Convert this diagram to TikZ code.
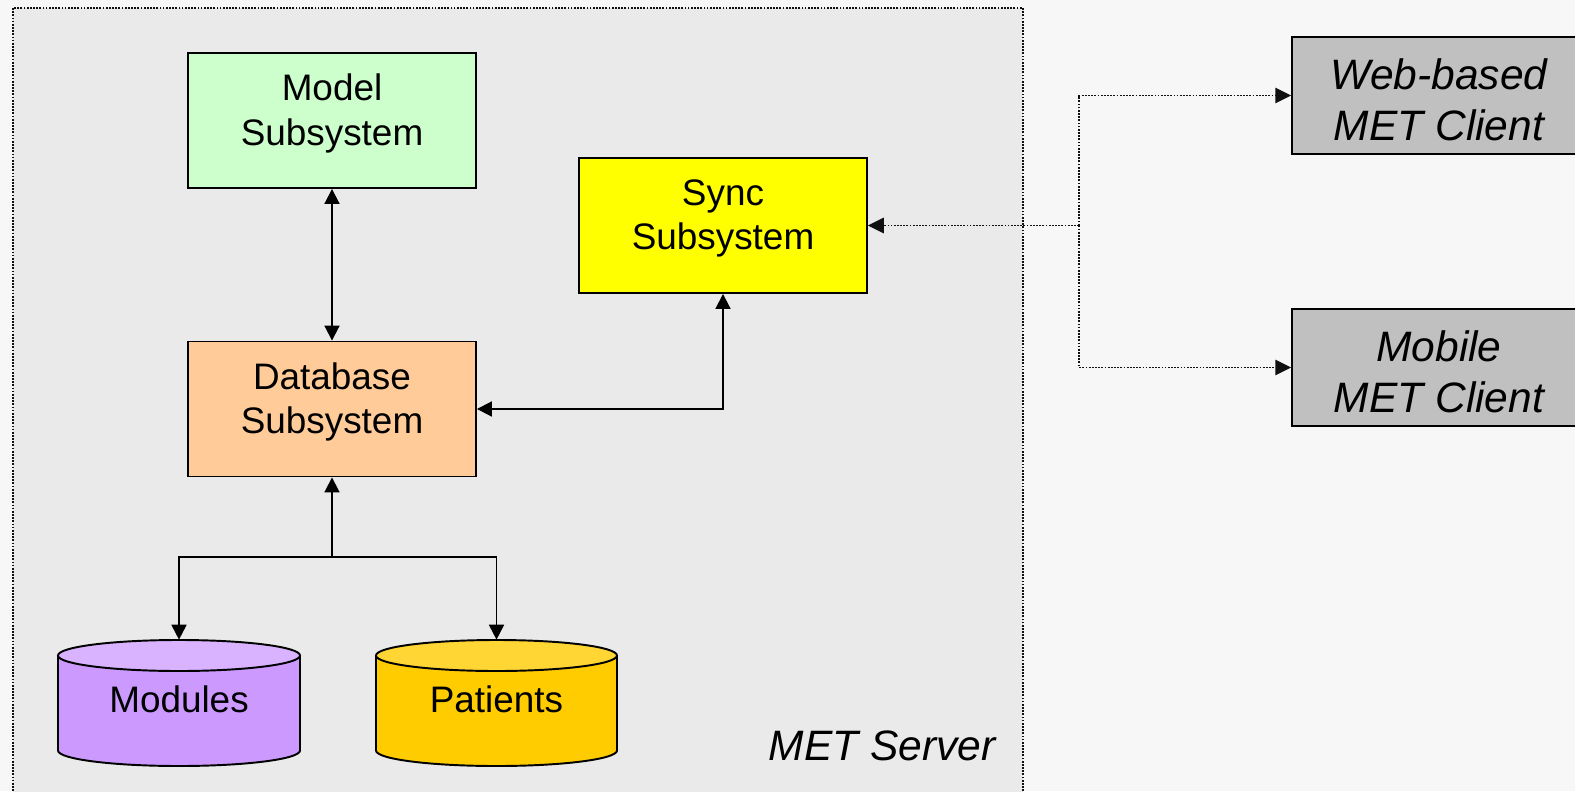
\documentclass[tikz,border=0pt]{standalone}
\usepackage{fontspec}
\setmainfont{Liberation Sans}
\usetikzlibrary{arrows.meta}
\definecolor{bgout}{HTML}{F7F7F7}
\definecolor{bgserver}{HTML}{EAEAEA}
\definecolor{modelgreen}{HTML}{CCFFCC}
\definecolor{dborange}{HTML}{FFCC99}
\definecolor{syncyellow}{HTML}{FFFF00}
\definecolor{clientgray}{HTML}{C0C0C0}
\definecolor{modbody}{HTML}{CC99FF}
\definecolor{modtop}{HTML}{D9B3FF}
\definecolor{patbody}{HTML}{FFCC00}
\definecolor{pattop}{HTML}{FFD633}
\definecolor{dotgray}{HTML}{101010}
\begin{document}
\begin{tikzpicture}[x=0.02cm,y=-0.02cm,
  box/.style={draw=black, line width=1.1pt, minimum width=5.76cm, minimum height=2.7cm, inner sep=0pt},
  boxt/.style={label={[font=\fontsize{21}{25.2}\selectfont, align=center, yshift=4pt]center:#1}},
  client/.style={box, fill=clientgray, minimum height=2.34cm},
  clientt/.style={label={[font=\fontsize{24.2}{29.3}\selectfont\itshape, align=center, yshift=-2.5pt, xshift=1.7pt]center:#1}},
  cylnode/.style={minimum width=4.84cm, minimum height=2.52cm, inner sep=0pt},
  cylt/.style={label={[font=\fontsize{21}{25.2}\selectfont, yshift=2.2pt]center:#1}},
  cyl/.style={draw=black, line width=1.1pt},
  arr/.style={line width=1.1pt, -{Triangle[length=8.5pt,width=8.5pt]}},
  arrb/.style={line width=1.1pt, {Triangle[length=8.5pt,width=8.5pt]}-{Triangle[length=8.5pt,width=8.5pt]}},
  dotarr/.style={draw=dotgray, line width=1pt, dash pattern=on 1pt off 0.8pt, -{Triangle[length=9pt,width=9pt,line width=0pt]}}
]
\useasboundingbox (0,0) rectangle (1575,791);
\clip (0,0) rectangle (1575,791);
\fill[bgout] (0,0) rectangle (1575,791);

% server frame
\node[draw=dotgray, line width=1pt, dash pattern=on 1pt off 0.8pt, fill=bgserver,
      minimum width=20.2cm, minimum height=15.9cm, anchor=north west, inner sep=0pt] (server) at (12,7) {};
\node[font=\fontsize{24.2}{28}\selectfont\itshape, anchor=base east, inner sep=0pt] (srvlbl) at (996,760) {MET Server};

% subsystem boxes
\node[box, fill=modelgreen, boxt={Model\\Subsystem}] (model) at (332,120.5) {};
\node[box, fill=dborange, boxt={Database\\Subsystem}] (db) at (332,409) {};
\node[box, fill=syncyellow, boxt={Sync\\Subsystem}] (sync) at (723,225.5) {};

% clients
\node[client, clientt={Web-based\\MET Client}] (web) at (1436,95.5) {};
\node[client, clientt={Mobile\\MET Client}] (mob) at (1436,367.5) {};

% cylinders
\node[cylnode] (mod) at (179,703) {};
\node[cylnode] (pat) at (496.5,703) {};
\fill[modbody] (58,655.5) rectangle (300,750.5);
\fill[modbody] (179,750.5) ellipse [x radius=121, y radius=15.5];
\draw[cyl] (58,655.5) -- (58,750.5) arc[start angle=180, end angle=0, x radius=121, y radius=15.5] -- (300,655.5);
\filldraw[cyl, fill=modtop] (179,655.5) ellipse [x radius=121, y radius=15.5];
\fill[patbody] (376,655.5) rectangle (617,750.5);
\fill[patbody] (496.5,750.5) ellipse [x radius=120.5, y radius=15.5];
\draw[cyl] (376,655.5) -- (376,750.5) arc[start angle=180, end angle=0, x radius=120.5, y radius=15.5] -- (617,655.5);
\filldraw[cyl, fill=pattop] (496.5,655.5) ellipse [x radius=120.5, y radius=15.5];
\node[cylt=Modules, inner sep=0pt] at (mod.center) {};
\node[cylt=Patients, inner sep=0pt] at (pat.center) {};

% connectors
\draw[arrb] (model.south) -- (db.north);
\draw[arrb] (sync.south) |- (db.east);
\coordinate (j) at (332,557);
\draw[arr] (j) -- (db.south);
\draw[arr] (j) -| (mod.north);
\draw[arr] (j) -| (pat.north);

\coordinate (br) at (1079,225.5);
\draw[dotarr] (br) -- (sync.east);
\draw[dotarr] (br) |- (web.west);
\draw[dotarr] (br) |- (mob.west);
\end{tikzpicture}
\end{document}
